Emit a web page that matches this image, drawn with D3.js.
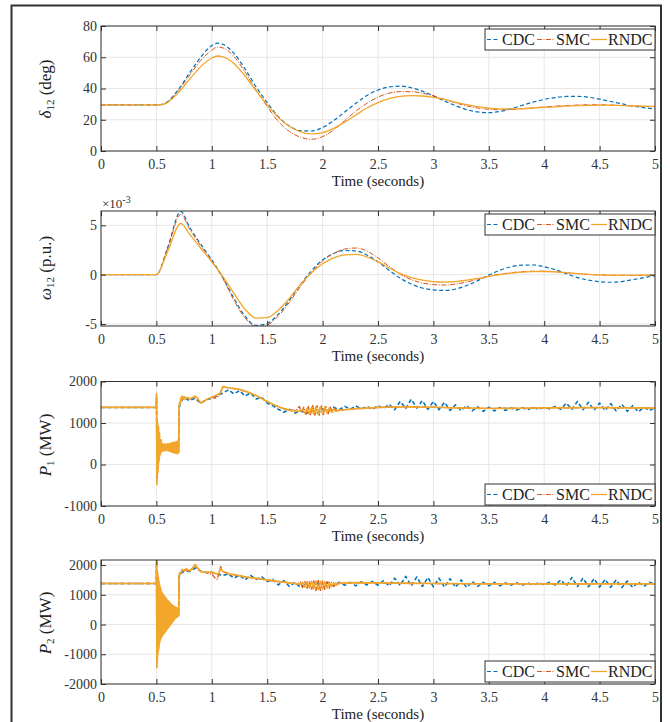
<!DOCTYPE html>
<html>
<head>
<meta charset="utf-8">
<script src="https://cdn.jsdelivr.net/npm/d3@7"></script>
<style>
  body { margin: 0; background: #fff; }
  svg { display: block; font-family: "Liberation Serif", "DejaVu Serif", serif; }
</style>
</head>
<body>
<svg id="chart" width="670" height="722"></svg>
<script>
// series names / tick labels
var seriesNames = ['CDC', 'SMC', 'RNDC'];
var xTicks = [0, 0.5, 1, 1.5, 2, 2.5, 3, 3.5, 4, 4.5, 5];
var yTicksDelta = [0, 20, 40, 60, 80];
var yTicksOmega = [-5, 0, 5];          // x 10^-3
var yTicksP1 = [-1000, 0, 1000, 2000];
var yTicksP2 = [-2000, -1000, 0, 1000, 2000];

// delta_12 (deg)
var tDelta = [0, 0.5, 0.55, 0.6, 0.7, 0.8, 0.9, 1.0, 1.05,
  1.1, 1.2, 1.3, 1.4, 1.5, 1.6, 1.7, 1.8, 1.9, 2.0,
  2.1, 2.2, 2.3, 2.4, 2.5, 2.6, 2.7, 2.8, 2.9, 3.0,
  3.1, 3.2, 3.3, 3.4, 3.5, 3.6, 3.7, 3.8, 3.9, 4.0,
  4.1, 4.2, 4.3, 4.4, 4.5, 4.6, 4.7, 4.8, 4.9, 5.0];
var deltaCDC = [29.5, 29.5, 29.8, 31.5, 39.5, 50, 60, 67.5, 69,
  68.3, 62.5, 52.5, 41, 31, 22, 16, 13, 12.8, 15,
  19.5, 25, 30.5, 35.5, 39, 41, 41.5, 40.5, 38.3, 35.3,
  32, 29, 26.5, 25, 24.5, 25.3, 27, 29.2, 31.3, 33,
  34.2, 34.9, 35, 34.4, 33.2, 31.7, 30.2, 28.8, 27.7, 27];
var deltaSMC = [29.5, 29.5, 29.8, 31.5, 39, 48.5, 58, 64.5, 66.5,
  66, 60.5, 50.5, 39, 28.5, 19, 12.5, 8.8, 7.5, 9.2,
  13.5, 19.5, 25.5, 30.5, 34.5, 37, 38, 38, 37, 35.3,
  33, 30.8, 28.9, 27.5, 26.7, 26.4, 26.5, 27, 27.6, 28.2,
  28.7, 29.1, 29.4, 29.6, 29.6, 29.4, 29.1, 28.8, 28.6, 28.4];
var deltaRNDC = [29.5, 29.5, 29.7, 31, 37.5, 46, 54, 59.5, 60.8,
  60.3, 56, 48, 38.5, 29.5, 21.5, 15.8, 12.3, 11, 11.8,
  14.5, 18.5, 23, 27.5, 31, 33.5, 35, 35.5, 35.2, 34.3,
  33, 31.3, 29.7, 28.4, 27.5, 27, 26.9, 27.1, 27.5, 27.9,
  28.3, 28.7, 29, 29.2, 29.3, 29.3, 29.1, 28.9, 28.7, 28.5];

// omega_12 (p.u., in units of 10^-3)
var tOmega = [0, 0.5, 0.6, 0.72, 0.8, 0.9,
  1.0, 1.1, 1.2, 1.3, 1.4, 1.5, 1.6, 1.7, 1.8, 1.9,
  2.0, 2.1, 2.2, 2.3, 2.4, 2.5, 2.6, 2.7, 2.8, 2.9,
  3.0, 3.1, 3.2, 3.3, 3.4, 3.5, 3.6, 3.7, 3.8, 3.9,
  4.0, 4.1, 4.2, 4.3, 4.4, 4.5, 4.6, 4.7, 4.8, 4.9, 5.0];
var omegaCDC = [0, 0, 2.7, 6.4, 4.8, 3.1,
  1.5, -0.3, -2.4, -4.2, -5.15, -4.95, -4.0, -2.6, -1.0, 0.4,
  1.5, 2.15, 2.45, 2.4, 2.0, 1.3, 0.45, -0.35, -0.95, -1.35,
  -1.55, -1.6, -1.45, -1.1, -0.6, -0.05, 0.45, 0.8, 0.97, 0.98,
  0.8, 0.5, 0.1, -0.3, -0.55, -0.72, -0.77, -0.7, -0.5, -0.3, -0.1];
var omegaSMC = [0, 0, 2.6, 6.1, 4.6, 2.95,
  1.4, -0.4, -2.6, -4.4, -5.25, -5.1, -4.2, -2.8, -1.2, 0.2,
  1.4, 2.15, 2.6, 2.7, 2.4, 1.7, 0.85, 0.05, -0.5, -0.85,
  -1.0, -1.05, -0.95, -0.75, -0.45, -0.15, 0.05, 0.2, 0.3, 0.35,
  0.35, 0.3, 0.2, 0.1, 0.02, -0.03, -0.07, -0.08, -0.08, -0.06, -0.05];
var omegaRNDC = [0, 0, 2.3, 5.2, 4.1, 2.7,
  1.3, -0.2, -1.9, -3.5, -4.4, -4.35, -3.6, -2.4, -1.0, 0.2,
  1.1, 1.7, 2.0, 2.05, 1.8, 1.3, 0.7, 0.1, -0.3, -0.55,
  -0.7, -0.75, -0.7, -0.55, -0.38, -0.18, 0.0, 0.15, 0.25, 0.3,
  0.32, 0.28, 0.2, 0.1, 0.03, -0.02, -0.05, -0.05, -0.05, -0.05, -0.05];

// P1 (MW) as [time, value]
var p1CDC = [[0,1375],[0.5,1375],[0.501,1600],[0.505,-300],[0.51,800],[0.52,100],[0.53,600],[0.55,350],[0.6,450],[0.65,380],[0.7,320],[0.705,1350],[0.72,1520],[0.75,1600],[0.8,1540],[0.85,1600],[0.9,1470],[0.95,1560],[1.0,1600],[1.05,1660],[1.1,1720],[1.15,1800],[1.2,1700],[1.25,1780],[1.3,1650],[1.35,1720],[1.4,1580],[1.45,1620],[1.5,1480],[1.55,1420],[1.6,1330],[1.65,1260],[1.7,1330],[1.75,1240],[1.8,1300],[1.85,1220],[1.9,1320],[1.95,1250],[2.0,1340],[2.05,1280],[2.1,1380],[2.15,1320],[2.2,1400],[2.25,1330],[2.3,1410],[2.35,1340],[2.4,1400],[2.45,1330],[2.5,1420],[2.55,1350],[2.6,1450],[2.65,1320],[2.7,1520],[2.75,1350],[2.8,1570],[2.85,1360],[2.9,1540],[2.95,1330],[3.0,1520],[3.05,1320],[3.1,1500],[3.15,1300],[3.2,1440],[3.25,1300],[3.3,1420],[3.35,1290],[3.4,1390],[3.45,1280],[3.5,1380],[3.55,1290],[3.6,1370],[3.65,1300],[3.7,1360],[3.75,1310],[3.8,1370],[3.85,1320],[3.9,1380],[3.95,1330],[4.0,1380],[4.05,1340],[4.1,1400],[4.15,1330],[4.2,1480],[4.25,1330],[4.3,1520],[4.35,1320],[4.4,1500],[4.45,1310],[4.5,1480],[4.55,1300],[4.6,1470],[4.65,1290],[4.7,1450],[4.75,1280],[4.8,1420],[4.85,1270],[4.9,1380],[4.95,1300],[5.0,1370]];
var p1SMC = [[0,1375],[0.5,1375],[0.501,1650],[0.505,-400],[0.51,900],[0.515,-100],[0.52,800],[0.53,200],[0.54,600],[0.55,300],[0.6,450],[0.65,400],[0.7,300],[0.705,1400],[0.72,1580],[0.75,1620],[0.8,1570],[0.85,1640],[0.9,1480],[0.95,1560],[1.0,1620],[1.03,1600],[1.06,1640],[1.1,1870],[1.2,1830],[1.3,1770],[1.4,1660],[1.5,1520],[1.6,1390],[1.7,1310],[1.76,1300],[1.79,1400],[1.81,1260],[1.83,1380],[1.85,1220],[1.87,1400],[1.89,1200],[1.91,1420],[1.93,1190],[1.95,1420],[1.97,1190],[1.99,1410],[2.01,1200],[2.03,1400],[2.05,1220],[2.07,1380],[2.09,1250],[2.11,1350],[2.13,1290],[2.2,1320],[2.4,1360],[2.6,1385],[3.0,1380],[3.5,1352],[4.0,1365],[4.5,1370],[5.0,1360]];
var p1RNDC = [[0,1375],[0.5,1375],[0.501,1710],[0.503,600],[0.505,-480],[0.507,900],[0.509,-100],[0.511,1000],[0.513,-200],[0.515,800],[0.517,100],[0.519,900],[0.521,50],[0.523,700],[0.525,150],[0.528,750],[0.531,250],[0.534,600],[0.537,250],[0.54,550],[0.543,300],[0.546,520],[0.55,320],[0.555,500],[0.56,330],[0.565,480],[0.57,350],[0.575,490],[0.58,330],[0.585,480],[0.59,350],[0.595,500],[0.6,340],[0.605,490],[0.61,330],[0.615,500],[0.62,320],[0.625,500],[0.63,310],[0.635,520],[0.64,300],[0.645,520],[0.65,290],[0.655,530],[0.66,280],[0.665,540],[0.67,280],[0.675,540],[0.68,270],[0.685,550],[0.69,260],[0.695,560],[0.7,280],[0.705,1400],[0.71,1500],[0.715,1450],[0.72,1600],[0.725,1520],[0.73,1650],[0.74,1580],[0.75,1640],[0.76,1570],[0.78,1620],[0.8,1580],[0.82,1600],[0.85,1650],[0.87,1600],[0.9,1480],[0.93,1520],[0.96,1580],[1.0,1620],[1.05,1680],[1.08,1720],[1.1,1880],[1.12,1860],[1.15,1850],[1.2,1830],[1.25,1810],[1.3,1770],[1.35,1720],[1.4,1660],[1.45,1590],[1.5,1520],[1.55,1450],[1.6,1390],[1.65,1340],[1.7,1310],[1.75,1290],[1.8,1280],[1.82,1330],[1.84,1230],[1.86,1350],[1.88,1220],[1.9,1370],[1.92,1220],[1.94,1380],[1.96,1210],[1.98,1390],[2.0,1220],[2.02,1380],[2.04,1240],[2.06,1360],[2.08,1260],[2.1,1340],[2.12,1280],[2.15,1320],[2.2,1320],[2.3,1345],[2.4,1360],[2.5,1375],[2.6,1385],[2.8,1390],[3.0,1380],[3.2,1365],[3.4,1355],[3.6,1350],[3.8,1355],[4.0,1365],[4.3,1370],[4.6,1370],[5.0,1360]];

// P2 (MW) as [time, value]
var p2CDC = [[0,1380],[0.5,1380],[0.501,2000],[0.505,-1200],[0.51,1500],[0.52,-700],[0.53,1200],[0.55,0],[0.6,400],[0.65,350],[0.7,300],[0.705,1600],[0.72,1700],[0.75,1800],[0.8,1780],[0.85,1900],[0.9,1800],[0.95,1750],[1.0,1760],[1.05,1700],[1.1,1650],[1.15,1700],[1.2,1560],[1.25,1660],[1.3,1500],[1.35,1650],[1.4,1520],[1.45,1600],[1.5,1450],[1.55,1520],[1.6,1330],[1.65,1480],[1.7,1280],[1.75,1420],[1.8,1250],[1.85,1380],[1.9,1220],[1.95,1400],[2.0,1250],[2.05,1420],[2.1,1300],[2.15,1420],[2.2,1320],[2.25,1420],[2.3,1300],[2.35,1440],[2.4,1330],[2.45,1450],[2.5,1320],[2.55,1480],[2.6,1300],[2.65,1560],[2.7,1320],[2.75,1620],[2.8,1300],[2.85,1600],[2.9,1280],[2.95,1580],[3.0,1270],[3.05,1560],[3.1,1260],[3.15,1540],[3.2,1250],[3.25,1500],[3.3,1250],[3.35,1450],[3.4,1280],[3.45,1420],[3.5,1300],[3.55,1420],[3.6,1300],[3.65,1400],[3.7,1320],[3.75,1410],[3.8,1320],[3.85,1400],[3.9,1330],[3.95,1410],[4.0,1340],[4.05,1420],[4.1,1330],[4.15,1500],[4.2,1300],[4.25,1580],[4.3,1280],[4.35,1560],[4.4,1270],[4.45,1540],[4.5,1260],[4.55,1520],[4.6,1250],[4.65,1500],[4.7,1240],[4.75,1460],[4.8,1250],[4.85,1430],[4.9,1280],[4.95,1420],[5.0,1350]];
var p2SMC = [[0,1380],[0.5,1380],[0.501,2100],[0.505,-1300],[0.51,1600],[0.52,-800],[0.53,1300],[0.54,-400],[0.55,1000],[0.6,200],[0.65,500],[0.7,350],[0.705,1650],[0.72,1720],[0.75,1830],[0.8,1800],[0.85,1990],[0.9,1780],[0.95,1740],[1.0,1700],[1.03,1560],[1.05,1520],[1.08,1950],[1.1,1780],[1.2,1670],[1.3,1600],[1.4,1550],[1.5,1490],[1.6,1440],[1.7,1400],[1.78,1360],[1.8,1430],[1.82,1240],[1.84,1440],[1.86,1200],[1.88,1470],[1.9,1160],[1.92,1480],[1.94,1140],[1.96,1480],[1.98,1150],[2.0,1460],[2.02,1180],[2.04,1440],[2.06,1220],[2.08,1420],[2.1,1280],[2.12,1400],[2.15,1380],[2.2,1400],[2.5,1400],[3.0,1380],[4.0,1370],[5.0,1370]];
var p2RNDC = [[0,1380],[0.5,1380],[0.501,2250],[0.503,200],[0.505,-1450],[0.507,1800],[0.509,-1200],[0.511,1750],[0.513,-1000],[0.515,1650],[0.517,-900],[0.519,1550],[0.521,-800],[0.523,1450],[0.525,-700],[0.528,1350],[0.531,-600],[0.534,1250],[0.537,-500],[0.54,1200],[0.543,-450],[0.546,1100],[0.55,-400],[0.555,1050],[0.56,-350],[0.565,1000],[0.57,-300],[0.575,950],[0.58,-250],[0.585,900],[0.59,-200],[0.595,850],[0.6,-150],[0.605,800],[0.61,-100],[0.615,760],[0.62,-50],[0.625,720],[0.63,0],[0.635,680],[0.64,50],[0.645,650],[0.65,100],[0.655,620],[0.66,150],[0.665,600],[0.67,200],[0.675,580],[0.68,230],[0.685,560],[0.69,260],[0.695,540],[0.7,300],[0.705,1600],[0.71,1750],[0.72,1700],[0.73,1850],[0.75,1820],[0.77,1880],[0.8,1800],[0.83,1900],[0.85,2020],[0.87,1900],[0.9,1780],[0.95,1750],[1.0,1770],[1.03,1720],[1.06,1700],[1.08,1900],[1.1,1780],[1.15,1700],[1.2,1680],[1.3,1600],[1.4,1550],[1.5,1500],[1.6,1450],[1.7,1400],[1.75,1380],[1.8,1350],[1.82,1420],[1.84,1260],[1.86,1440],[1.88,1230],[1.9,1450],[1.92,1200],[1.94,1460],[1.96,1180],[1.98,1450],[2.0,1200],[2.02,1440],[2.04,1230],[2.06,1420],[2.08,1280],[2.1,1400],[2.12,1320],[2.15,1390],[2.2,1400],[2.3,1410],[2.5,1400],[2.8,1385],[3.0,1380],[3.5,1365],[4.0,1370],[4.5,1370],[5.0,1370]];

function zipT(t, v) { return t.map(function(d, i) { return [d, v[i]]; }); }

var styles = {
  CDC:  { color: '#0072BD', dash: '4,2.5', width: 1.2 },
  SMC:  { color: '#D95319', dash: '5,1.5,1,1.5', width: 1.0 },
  RNDC: { color: '#F2A62A', dash: null, width: 1.3 }
};

var panels = [
  { top: 26, bottom: 151, domain: [0, 80], ticks: yTicksDelta, smooth: true, wscale: 1,
    sym: '\u03b4', sub: '12', unit: ' (deg)', labelY: 89, legendTop: 29,
    data: [zipT(tDelta, deltaCDC), zipT(tDelta, deltaSMC), zipT(tDelta, deltaRNDC)] },
  { top: 211, bottom: 326, domain: [-5.2, 6.45], ticks: yTicksOmega, smooth: true, wscale: 1,
    sym: '\u03c9', sub: '12', unit: ' (p.u.)', labelY: 268, legendTop: 214, exponent: true,
    data: [zipT(tOmega, omegaCDC), zipT(tOmega, omegaSMC), zipT(tOmega, omegaRNDC)] },
  { top: 381.5, bottom: 506, domain: [-1000, 2000], ticks: yTicksP1, smooth: false, wscale: 1.3,
    sym: 'P', sub: '1', unit: ' (MW)', labelY: 445, legendTop: 484,
    data: [p1CDC, p1SMC, p1RNDC] },
  { top: 560, bottom: 684, domain: [-2000, 2170], ticks: yTicksP2, smooth: false, wscale: 1.3,
    sym: 'P', sub: '2', unit: ' (MW)', labelY: 623, legendTop: 661,
    data: [p2CDC, p2SMC, p2RNDC] }
];

var svg = d3.select('#chart');
var left = 101, right = 655;
var axisColor = '#333';
var plain = function(d) { return String(d); };

// outer frame
svg.append('rect')
  .attr('x', 11.5).attr('y', 5.5).attr('width', 649.5).attr('height', 730)
  .attr('fill', 'none').attr('stroke', '#333').attr('stroke-width', 2);

var x = d3.scaleLinear().domain([0, 5]).range([left, right]);

panels.forEach(function(p, pi) {
  var y = d3.scaleLinear().domain(p.domain).range([p.bottom, p.top]);
  var g = svg.append('g');

  // grid
  g.selectAll('.gx').data(xTicks).enter().append('line')
    .attr('x1', function(d) { return x(d); }).attr('x2', function(d) { return x(d); })
    .attr('y1', p.top).attr('y2', p.bottom)
    .attr('stroke', '#e6e6e6').attr('stroke-width', 1);
  g.selectAll('.gy').data(p.ticks).enter().append('line')
    .attr('x1', left).attr('x2', right)
    .attr('y1', function(d) { return y(d); }).attr('y2', function(d) { return y(d); })
    .attr('stroke', '#e6e6e6').attr('stroke-width', 1);

  // clip
  svg.append('clipPath').attr('id', 'clip' + pi).append('rect')
    .attr('x', left).attr('y', p.top).attr('width', right - left).attr('height', p.bottom - p.top);

  var line = d3.line()
    .x(function(d) { return x(d[0]); })
    .y(function(d) { return y(d[1]); })
    .curve(p.smooth ? d3.curveMonotoneX : d3.curveLinear);

  var lines = g.append('g').attr('clip-path', 'url(#clip' + pi + ')');
  p.data.forEach(function(series, si) {
    var st = styles[seriesNames[si]];
    lines.append('path').datum(series)
      .attr('d', line)
      .attr('fill', 'none')
      .attr('stroke', st.color)
      .attr('stroke-width', st.width * p.wscale)
      .attr('stroke-dasharray', st.dash)
      .attr('stroke-linejoin', 'round');
  });

  // axes
  var xa = g.append('g').attr('transform', 'translate(0,' + p.bottom + ')')
    .call(d3.axisBottom(x).tickValues(xTicks).tickFormat(plain).tickSizeInner(-5).tickSizeOuter(0).tickPadding(8));
  var ya = g.append('g').attr('transform', 'translate(' + left + ',0)')
    .call(d3.axisLeft(y).tickValues(p.ticks).tickFormat(plain).tickSizeInner(-5).tickSizeOuter(0).tickPadding(4));
  var xt = g.append('g').attr('transform', 'translate(0,' + p.top + ')')
    .call(d3.axisTop(x).tickValues(xTicks).tickFormat('').tickSizeInner(-5).tickSizeOuter(0));
  var yr = g.append('g').attr('transform', 'translate(' + right + ',0)')
    .call(d3.axisRight(y).tickValues(p.ticks).tickFormat('').tickSizeInner(-5).tickSizeOuter(0));
  [xa, ya, xt, yr].forEach(function(a) {
    a.select('.domain').remove();
    a.selectAll('line').attr('stroke', axisColor);
    a.selectAll('text').attr('fill', '#333').attr('font-size', 14)
      .attr('font-family', '"Liberation Serif", serif');
  });

  g.append('rect')
    .attr('x', left).attr('y', p.top).attr('width', right - left).attr('height', p.bottom - p.top)
    .attr('fill', 'none').attr('stroke', axisColor).attr('stroke-width', 1);

  // x label
  g.append('text')
    .attr('x', (left + right) / 2).attr('y', p.bottom + 35)
    .attr('text-anchor', 'middle').attr('font-size', 15).attr('fill', '#222')
    .text('Time (seconds)');

  // y label
  var yl = g.append('text')
    .attr('transform', 'translate(51,' + p.labelY + ') rotate(-90)')
    .attr('text-anchor', 'middle').attr('font-size', 17).attr('fill', '#222');
  yl.append('tspan').attr('font-style', 'italic').text(p.sym);
  yl.append('tspan').attr('font-size', 11).attr('dy', 3).text(p.sub);
  yl.append('tspan').attr('dy', -3).text(p.unit);

  if (p.exponent) {
    var ex = g.append('text').attr('x', 102).attr('y', p.top - 3)
      .attr('font-size', 13).attr('fill', '#333');
    ex.append('tspan').text('\u00d710');
    ex.append('tspan').attr('font-size', 10).attr('dy', -5).text('-3');
  }

  // legend
  var lx = right - 170, ly = p.legendTop;
  var lg = g.append('g').attr('transform', 'translate(' + lx + ',' + ly + ')');
  lg.append('rect').attr('width', 170).attr('height', 21)
    .attr('fill', '#fff').attr('stroke', axisColor).attr('stroke-width', 1);
  var items = [
    { name: 'CDC', x1: 2, x2: 15, tx: 17 },
    { name: 'SMC', x1: 52, x2: 70, tx: 71 },
    { name: 'RNDC', x1: 106, x2: 122, tx: 123 }
  ];
  items.forEach(function(it) {
    var st = styles[it.name];
    lg.append('line').attr('x1', it.x1).attr('x2', it.x2).attr('y1', 10.5).attr('y2', 10.5)
      .attr('stroke', st.color).attr('stroke-width', st.width).attr('stroke-dasharray', st.dash);
    lg.append('text').attr('x', it.tx).attr('y', 16).attr('font-size', 16).attr('fill', '#222')
      .text(it.name);
  });
});
</script>
</body>
</html>
